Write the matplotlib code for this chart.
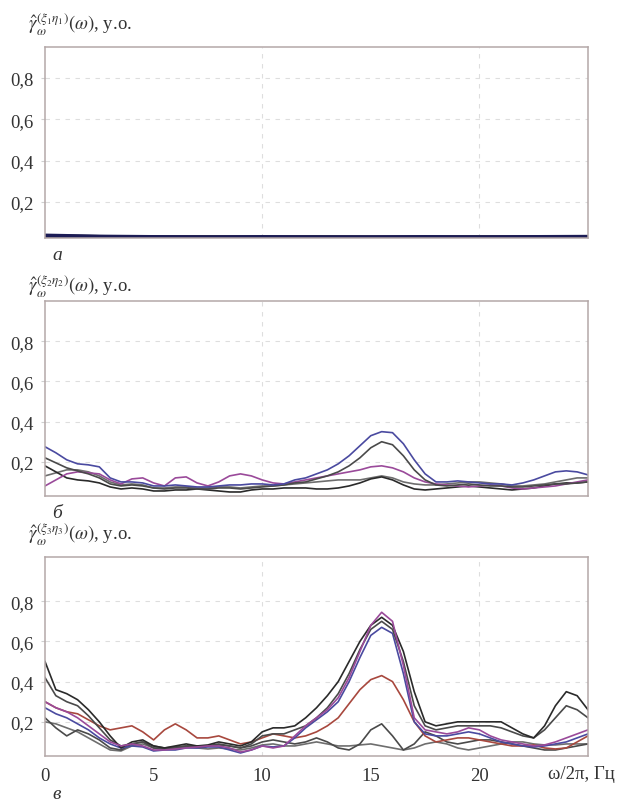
"""Coherence functions gamma(xi, eta) for three signal pairs, panels a, b, c."""

import matplotlib.pyplot as plt
import numpy as np

plt.rcParams["font.family"] = ["Liberation Serif", "DejaVu Serif"]
plt.rcParams["mathtext.fontset"] = "stix"

# frequency grids, Hz
freq_a = np.arange(0, 25.1, 2.5)
freq = np.arange(0, 25.1, 0.5)

# panel a: all estimates lie on the floor
a_navy = [0.038, 0.033, 0.031, 0.030, 0.031, 0.030, 0.030, 0.031, 0.030, 0.031, 0.032]
a_black = [0.036, 0.032, 0.030, 0.031, 0.030, 0.031, 0.030, 0.030, 0.031, 0.030, 0.031]
a_purple = [0.034, 0.031, 0.032, 0.030, 0.030, 0.030, 0.031, 0.030, 0.030, 0.032, 0.033]

# panel b
b_blue = [0.275, 0.245, 0.21, 0.19, 0.185, 0.175, 0.12, 0.10, 0.10, 0.095, 0.08, 0.08, 0.085,
          0.08, 0.075, 0.075, 0.08, 0.085, 0.085, 0.09, 0.09, 0.085, 0.09, 0.11, 0.12, 0.14,
          0.16, 0.19, 0.23, 0.28, 0.33, 0.35, 0.345, 0.29, 0.21, 0.14, 0.10, 0.10, 0.105, 0.10,
          0.095, 0.09, 0.09, 0.085, 0.095, 0.11, 0.13, 0.15, 0.155, 0.15, 0.135]
b_dark = [0.22, 0.195, 0.17, 0.155, 0.14, 0.12, 0.09, 0.08, 0.085, 0.08, 0.07, 0.065, 0.07,
          0.07, 0.065, 0.065, 0.07, 0.07, 0.065, 0.07, 0.075, 0.08, 0.085, 0.095, 0.10, 0.115,
          0.13, 0.15, 0.18, 0.22, 0.27, 0.30, 0.285, 0.23, 0.16, 0.11, 0.085, 0.08, 0.085, 0.09,
          0.085, 0.08, 0.08, 0.075, 0.075, 0.08, 0.085, 0.09, 0.09, 0.095, 0.10]
b_mag = [0.08, 0.11, 0.14, 0.15, 0.145, 0.14, 0.11, 0.09, 0.115, 0.12, 0.095, 0.08, 0.12,
         0.125, 0.095, 0.08, 0.10, 0.13, 0.14, 0.13, 0.11, 0.095, 0.09, 0.10, 0.11, 0.12,
         0.13, 0.14, 0.15, 0.16, 0.175, 0.18, 0.17, 0.15, 0.12, 0.10, 0.09, 0.085, 0.08, 0.075,
         0.08, 0.085, 0.08, 0.07, 0.065, 0.07, 0.075, 0.08, 0.09, 0.10, 0.11]
b_black = [0.18, 0.15, 0.12, 0.11, 0.105, 0.095, 0.075, 0.065, 0.07, 0.065, 0.055, 0.055, 0.06,
           0.06, 0.065, 0.06, 0.055, 0.05, 0.05, 0.06, 0.065, 0.065, 0.07, 0.07, 0.07, 0.065,
           0.065, 0.07, 0.08, 0.095, 0.115, 0.125, 0.11, 0.085, 0.065, 0.06, 0.065, 0.07, 0.075,
           0.08, 0.075, 0.07, 0.065, 0.06, 0.065, 0.07, 0.08, 0.09, 0.095, 0.095, 0.10]
b_gray = [0.13, 0.145, 0.16, 0.16, 0.15, 0.13, 0.10, 0.085, 0.09, 0.085, 0.07, 0.07, 0.075,
          0.075, 0.07, 0.07, 0.075, 0.075, 0.07, 0.075, 0.08, 0.08, 0.085, 0.09, 0.095, 0.10,
          0.105, 0.11, 0.11, 0.11, 0.12, 0.13, 0.12, 0.10, 0.09, 0.085, 0.085, 0.09, 0.095, 0.10,
          0.10, 0.095, 0.09, 0.08, 0.08, 0.085, 0.09, 0.10, 0.11, 0.12, 0.12]

# panel c
c_black = [0.50, 0.36, 0.34, 0.31, 0.26, 0.20, 0.13, 0.07, 0.10, 0.11, 0.08, 0.07, 0.08,
           0.09, 0.08, 0.085, 0.10, 0.09, 0.08, 0.10, 0.15, 0.17, 0.17, 0.18, 0.22, 0.27,
           0.33, 0.40, 0.50, 0.60, 0.68, 0.72, 0.68, 0.55, 0.35, 0.20, 0.18, 0.19, 0.20, 0.20,
           0.20, 0.20, 0.20, 0.17, 0.14, 0.12, 0.18, 0.28, 0.35, 0.33, 0.26]
c_dark = [0.42, 0.33, 0.30, 0.28, 0.23, 0.17, 0.11, 0.08, 0.09, 0.10, 0.07, 0.065, 0.07,
          0.08, 0.075, 0.08, 0.09, 0.08, 0.07, 0.09, 0.13, 0.14, 0.14, 0.16, 0.18, 0.22,
          0.27, 0.34, 0.44, 0.56, 0.66, 0.70, 0.66, 0.50, 0.28, 0.18, 0.16, 0.17, 0.18, 0.18,
          0.18, 0.18, 0.17, 0.15, 0.13, 0.12, 0.16, 0.22, 0.28, 0.26, 0.22]
c_mag = [0.30, 0.27, 0.25, 0.22, 0.18, 0.14, 0.10, 0.08, 0.09, 0.08, 0.06, 0.06, 0.065,
         0.07, 0.075, 0.08, 0.08, 0.07, 0.05, 0.06, 0.08, 0.07, 0.08, 0.13, 0.18, 0.22,
         0.26, 0.32, 0.42, 0.55, 0.68, 0.745, 0.70, 0.48, 0.22, 0.16, 0.15, 0.14, 0.15, 0.17,
         0.16, 0.13, 0.11, 0.10, 0.09, 0.08, 0.085, 0.10, 0.12, 0.14, 0.16]
c_blue = [0.27, 0.24, 0.22, 0.19, 0.16, 0.12, 0.09, 0.07, 0.08, 0.075, 0.055, 0.06, 0.06,
          0.07, 0.07, 0.075, 0.075, 0.06, 0.045, 0.06, 0.08, 0.075, 0.08, 0.12, 0.17, 0.21,
          0.25, 0.30, 0.40, 0.52, 0.63, 0.67, 0.64, 0.44, 0.20, 0.14, 0.13, 0.13, 0.14, 0.15,
          0.14, 0.12, 0.10, 0.09, 0.08, 0.075, 0.08, 0.09, 0.10, 0.12, 0.14]
c_red = [0.30, 0.27, 0.25, 0.24, 0.21, 0.18, 0.16, 0.17, 0.18, 0.15, 0.11, 0.16, 0.19,
         0.16, 0.12, 0.12, 0.13, 0.11, 0.09, 0.10, 0.12, 0.14, 0.13, 0.12, 0.13, 0.15,
         0.18, 0.22, 0.29, 0.36, 0.41, 0.43, 0.40, 0.31, 0.20, 0.13, 0.10, 0.11, 0.12, 0.12,
         0.11, 0.10, 0.09, 0.08, 0.08, 0.085, 0.07, 0.065, 0.07, 0.10, 0.13]
c_small = [0.22, 0.17, 0.13, 0.16, 0.14, 0.11, 0.07, 0.06, 0.09, 0.10, 0.08, 0.07, 0.075,
           0.08, 0.08, 0.08, 0.085, 0.08, 0.07, 0.08, 0.10, 0.11, 0.10, 0.09, 0.10, 0.12,
           0.10, 0.07, 0.06, 0.09, 0.16, 0.19, 0.13, 0.06, 0.09, 0.15, 0.13, 0.10, 0.09, 0.10,
           0.11, 0.11, 0.10, 0.09, 0.08, 0.07, 0.06, 0.06, 0.07, 0.08, 0.09]
c_gray = [0.20, 0.19, 0.17, 0.15, 0.12, 0.09, 0.06, 0.055, 0.08, 0.09, 0.07, 0.065, 0.07,
          0.075, 0.07, 0.065, 0.07, 0.065, 0.06, 0.07, 0.085, 0.09, 0.08, 0.08, 0.09, 0.10,
          0.09, 0.08, 0.08, 0.085, 0.09, 0.08, 0.07, 0.06, 0.07, 0.09, 0.10, 0.09, 0.07, 0.06,
          0.07, 0.08, 0.09, 0.10, 0.10, 0.09, 0.085, 0.085, 0.09, 0.09, 0.09]

x_ticks = [0, 5, 10, 15, 20]
x_ticklabels = ["0", "5", "10", "15", "20"]
x_unit = "ω/2π, Гц"
y_ticks = [0.2, 0.4, 0.6, 0.8]
y_ticklabels = ["0,2", "0,4", "0,6", "0,8"]

titles = [
    r"$\hat{\gamma}_{\omega}^{(\xi_1\eta_1)}(\omega)$, у.о.",
    r"$\hat{\gamma}_{\omega}^{(\xi_2\eta_2)}(\omega)$, у.о.",
    r"$\hat{\gamma}_{\omega}^{(\xi_3\eta_3)}(\omega)$, у.о.",
]
letters = ["а", "б", "в"]

BLACK = "#2a2a2a"
DARK = "#4a4a4a"
GRAY = "#6e6e6e"
BLUE = "#4a4aa0"
MAG = "#9a4a9a"
RED = "#a8483e"
SPINE = "#b4a8a8"
GRID = "#dedede"
TEXT = "#333333"

fig = plt.figure(figsize=(6.17, 8.04), dpi=100)
W, H = 617, 804
left, right = 45, 588
boxes = [(48, 239), (302, 497), (558, 757)]
axes = []
for top, bottom in boxes:
    ax = fig.add_axes([left / W, 1 - bottom / H, (right - left) / W, (bottom - top) / H])
    axes.append(ax)

ax_a, ax_b, ax_c = axes

for y, c, lw in [(a_purple, MAG, 2.0), (a_black, BLACK, 2.6), (a_navy, "#1c1c55", 2.8)]:
    ax_a.plot(freq_a, y, color=c, lw=lw)

for y, c in [(b_gray, GRAY), (b_black, BLACK), (b_mag, MAG), (b_dark, DARK), (b_blue, BLUE)]:
    ax_b.plot(freq, y, color=c, lw=1.2)

for y, c in [(c_gray, GRAY), (c_small, DARK), (c_red, RED), (c_blue, BLUE),
             (c_dark, DARK), (c_black, BLACK), (c_mag, MAG)]:
    ax_c.plot(freq, y, color=c, lw=1.2)

ylims = [(0.026, 0.95), (0.03, 1.0), (0.03, 1.02)]
for ax, ylim in zip(axes, ylims):
    ax.set_xlim(0, 25)
    ax.set_ylim(*ylim)
    ax.set_yticks(y_ticks)
    ax.set_yticklabels(y_ticklabels, fontsize=13.5, color=TEXT)
    ax.tick_params(axis="y", length=3, color="#d0d0d0", pad=5)
    ax.set_xticks(x_ticks)
    ax.grid(True, axis="y", ls=(0, (4, 5)), color=GRID, lw=0.8)
    for xv in (10, 20):
        ax.axvline(xv, ls=(0, (4, 5)), color=GRID, lw=0.8, zorder=0)
    for s in ax.spines.values():
        s.set_color(SPINE)
        s.set_linewidth(1.1)

for ax in (ax_a, ax_b):
    ax.tick_params(axis="x", labelbottom=False, length=0)

ax_c.set_xticklabels(x_ticklabels, fontsize=13.5, color=TEXT)
ax_c.tick_params(axis="x", length=0, pad=8)
fig.text(615 / W, 1 - 775 / H, x_unit, fontsize=13.5, ha="right", va="center", color=TEXT)

title_y = [24, 286, 534]
for ty, t in zip(title_y, titles):
    fig.text(28 / W, 1 - ty / H, t, fontsize=13.5, ha="left", va="center", color=TEXT)

letter_y = [255, 513, 795]
for ly, lt in zip(letter_y, letters):
    fig.text(52 / W, 1 - ly / H, lt, fontsize=14, style="italic", ha="left",
             va="center", color=TEXT)

fig.savefig("out.png", dpi=100)
